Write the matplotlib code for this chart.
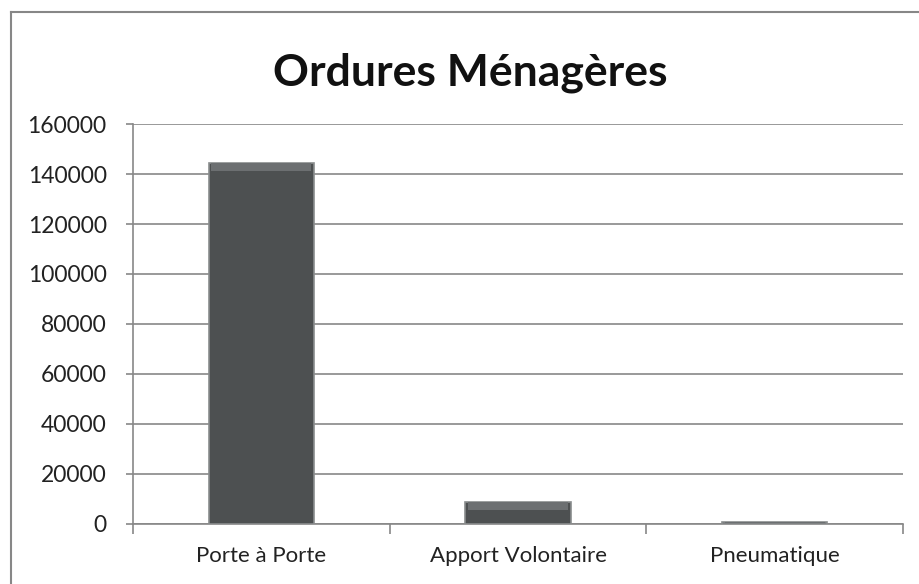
import matplotlib.pyplot as plt
from matplotlib.lines import Line2D

categories = ["Porte à Porte", "Apport Volontaire", "Pneumatique"]
values = [144500, 8800, 700]
yticks = [0, 20000, 40000, 60000, 80000, 100000, 120000, 140000, 160000]

plt.rcParams['font.family'] = ['Lato', 'DejaVu Sans']

fig = plt.figure(figsize=(9.19, 5.84), dpi=100)
ax = fig.add_axes([133/919, 60/584, 770/919, 400/584])

grey = '#878787'
x = list(range(len(categories)))
ax.bar(x, values, width=0.41, color='#4d5051', edgecolor='#8a8d8e', linewidth=1.2, zorder=3)
# lighter bevel band at the top of each bar
bevel = [min(3200, v * 0.4) for v in values]
ax.bar(x, bevel, bottom=[v - b for v, b in zip(values, bevel)], width=0.39,
       color='#6c6f71', linewidth=0, zorder=4)

ax.set_xlim(-0.5, len(categories) - 0.5)
ax.set_ylim(0, 160000)
ax.set_yticks(yticks)
ax.set_yticklabels([str(v) for v in yticks], fontsize=16.5, color='#222222')
ax.set_xticks(x)
ax.set_xticklabels(categories, fontsize=16, color='#222222')
ax.tick_params(axis='x', length=0, pad=16)
ax.tick_params(axis='y', length=5, width=1.2, color=grey, pad=14)
ax.set_xticks([i - 0.5 for i in range(len(categories) + 1)], minor=True)
ax.tick_params(axis='x', which='minor', length=7, width=1.2, color=grey)

ax.yaxis.grid(True, color=grey, linewidth=1.2, zorder=0)
ax.set_axisbelow(True)
for s in ['top', 'right']:
    ax.spines[s].set_visible(False)
for s in ['left', 'bottom']:
    ax.spines[s].set_color(grey)
    ax.spines[s].set_linewidth(1.2)

fig.text(470/919, 1 - 73/584, "Ordures Ménagères", fontsize=32, fontweight='bold',
         ha='center', va='center', color='#111111')

# outer chart frame
fig.add_artist(Line2D([11/919, 11/919], [0, 1 - 12/584], color=grey, linewidth=1.5))
fig.add_artist(Line2D([11/919, 1], [1 - 12/584, 1 - 12/584], color=grey, linewidth=1.5))

fig.savefig("out.png", dpi=100)
